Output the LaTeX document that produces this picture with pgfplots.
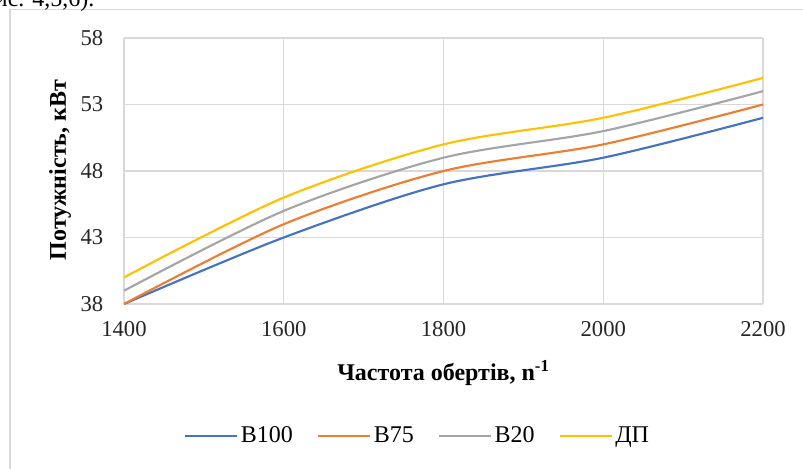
\documentclass[border=0pt]{standalone}
\usepackage{fontspec}
\setmainfont{Liberation Serif}
\usepackage{pgfplots}
\pgfplotsset{compat=1.18}
\definecolor{cA}{HTML}{4472C4}
\definecolor{cB}{HTML}{ED7D31}
\definecolor{cC}{HTML}{A5A5A5}
\definecolor{cD}{HTML}{FFC000}
\definecolor{gridc}{HTML}{D9D9D9}
\begin{document}
\begin{tikzpicture}
\useasboundingbox (0,0) rectangle (602.25pt,351pt);
\draw[color=gridc, line width=0.8pt] (7.5pt,-5pt) -- (7.5pt,343.9pt) -- (610pt,343.9pt);
\node[anchor=base east, font=\fontsize{18}{20}\selectfont, inner sep=0pt] at (71pt,346pt) {рис. 4,5,6).};
\begin{axis}[
  at={(93pt,123pt)}, anchor=south west,
  scale only axis, width=479.25pt, height=199.5pt,
  xmin=1400, xmax=2200, ymin=38, ymax=58,
  xtick={1400,1600,1800,2000,2200},
  ytick={38,43,48,53,58},
  /pgf/number format/assume math mode=true,
  /pgf/number format/set thousands separator={},
  tick style={draw=none},
  grid=major,
  major grid style={color=gridc, line width=0.8pt},
  axis line style={color=gridc, line width=0.8pt},
  axis x line*=bottom, axis y line*=left,
  tick label style={font=\fontsize{17}{19}\selectfont, color=black!85},
  xticklabel style={yshift=-9.5pt},
  yticklabel style={xshift=-12pt},
  xlabel={\textbf{Частота обертів, n\textsuperscript{-1}}},
  ylabel={\textbf{Потужність, кВт}},
  label style={font=\fontsize{18}{20}\selectfont},
  xlabel style={at={(axis description cs:0.5,-0.26)}, anchor=center},
  ylabel style={at={(axis description cs:-0.1,0.504)}, anchor=center},
  legend columns=4,
  legend style={draw=none, fill=none, at={(axis description cs:0.46,-0.496)}, anchor=center,
    font=\fontsize{18}{20}\selectfont,
    /tikz/every even column/.append style={column sep=16pt}},
  legend image code/.code={\draw[#1] (0pt,0pt) -- (39pt,0pt);},
  every axis plot/.append style={line width=1.6pt, smooth, no markers},
]
\addplot[color=cA] coordinates {(1400,38) (1600,43) (1800,47) (2000,49) (2200,52)};
\addlegendentry{В100}
\addplot[color=cB] coordinates {(1400,38) (1600,44) (1800,48) (2000,50) (2200,53)};
\addlegendentry{В75}
\addplot[color=cC] coordinates {(1400,39) (1600,45) (1800,49) (2000,51) (2200,54)};
\addlegendentry{В20}
\addplot[color=cD] coordinates {(1400,40) (1600,46) (1800,50) (2000,52) (2200,55)};
\addlegendentry{ДП}
\end{axis}
\end{tikzpicture}
\end{document}
